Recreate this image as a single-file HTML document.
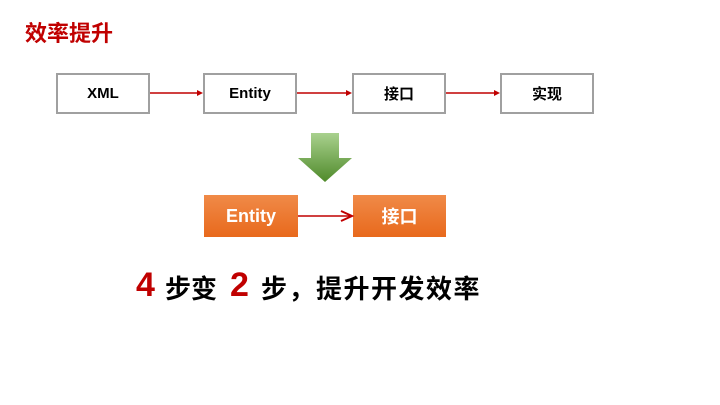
<!DOCTYPE html>
<html><head><meta charset="utf-8"><style>
body{margin:0;width:720px;height:405px;background:#fff;position:relative;overflow:hidden;font-family:"Liberation Sans","Noto Sans CJK SC",sans-serif}
.a{position:absolute;white-space:nowrap}
.b{position:absolute;box-sizing:border-box;border:2px solid #a0a0a0;background:#fff;display:flex;align-items:center;justify-content:center;font-weight:bold;font-size:15px;color:#000;height:41px;top:73px}
.o{position:absolute;box-sizing:border-box;background:linear-gradient(#f08a48,#e8691c);display:flex;align-items:center;justify-content:center;font-weight:bold;font-size:18px;color:#fff;height:42px;top:195px}
.k{font-weight:bold;font-size:26px;color:#000;top:269px}
.r{font-weight:bold;font-size:34px;color:#c00000;top:266px}
</style></head><body>
<div class="a" style="left:25px;top:16px;font-size:22px;font-weight:bold;color:#c00000">效率提升</div>
<div class="b" style="left:56px;width:94px">XML</div>
<div class="b" style="left:203px;width:94px">Entity</div>
<div class="b" style="left:352px;width:94px">接口</div>
<div class="b" style="left:500px;width:94px">实现</div>
<div class="o" style="left:204px;width:94px">Entity</div>
<div class="o" style="left:353px;width:93px">接口</div>
<svg class="a" style="left:0;top:0" width="720" height="405">
<defs><linearGradient id="g" x1="0" y1="0" x2="0" y2="1"><stop offset="0" stop-color="#a9d18e"/><stop offset="1" stop-color="#4f8a2a"/></linearGradient></defs>
<g stroke="#c00000" stroke-width="1.5" fill="#c00000">
<line x1="150" y1="93" x2="199" y2="93"/><polygon points="203,93 197,90 197,96" stroke="none"/>
<line x1="297" y1="93" x2="348" y2="93"/><polygon points="352,93 346,90 346,96" stroke="none"/>
<line x1="446" y1="93" x2="496" y2="93"/><polygon points="500,93 494,90 494,96" stroke="none"/>
<line x1="298" y1="216" x2="350" y2="216"/><polyline points="341,211 352,216 341,221" fill="none" stroke-width="2"/>
</g>
<polygon points="311,133 339,133 339,158 352,158 325,182 298,158 311,158" fill="url(#g)"/>
</svg>
<div class="a r" style="left:136px">4</div>
<div class="a k" style="left:165px">步变</div>
<div class="a r" style="left:230px">2</div>
<div class="a k" style="left:261px;letter-spacing:1.5px">步，提升开发效率</div>
</body></html>
